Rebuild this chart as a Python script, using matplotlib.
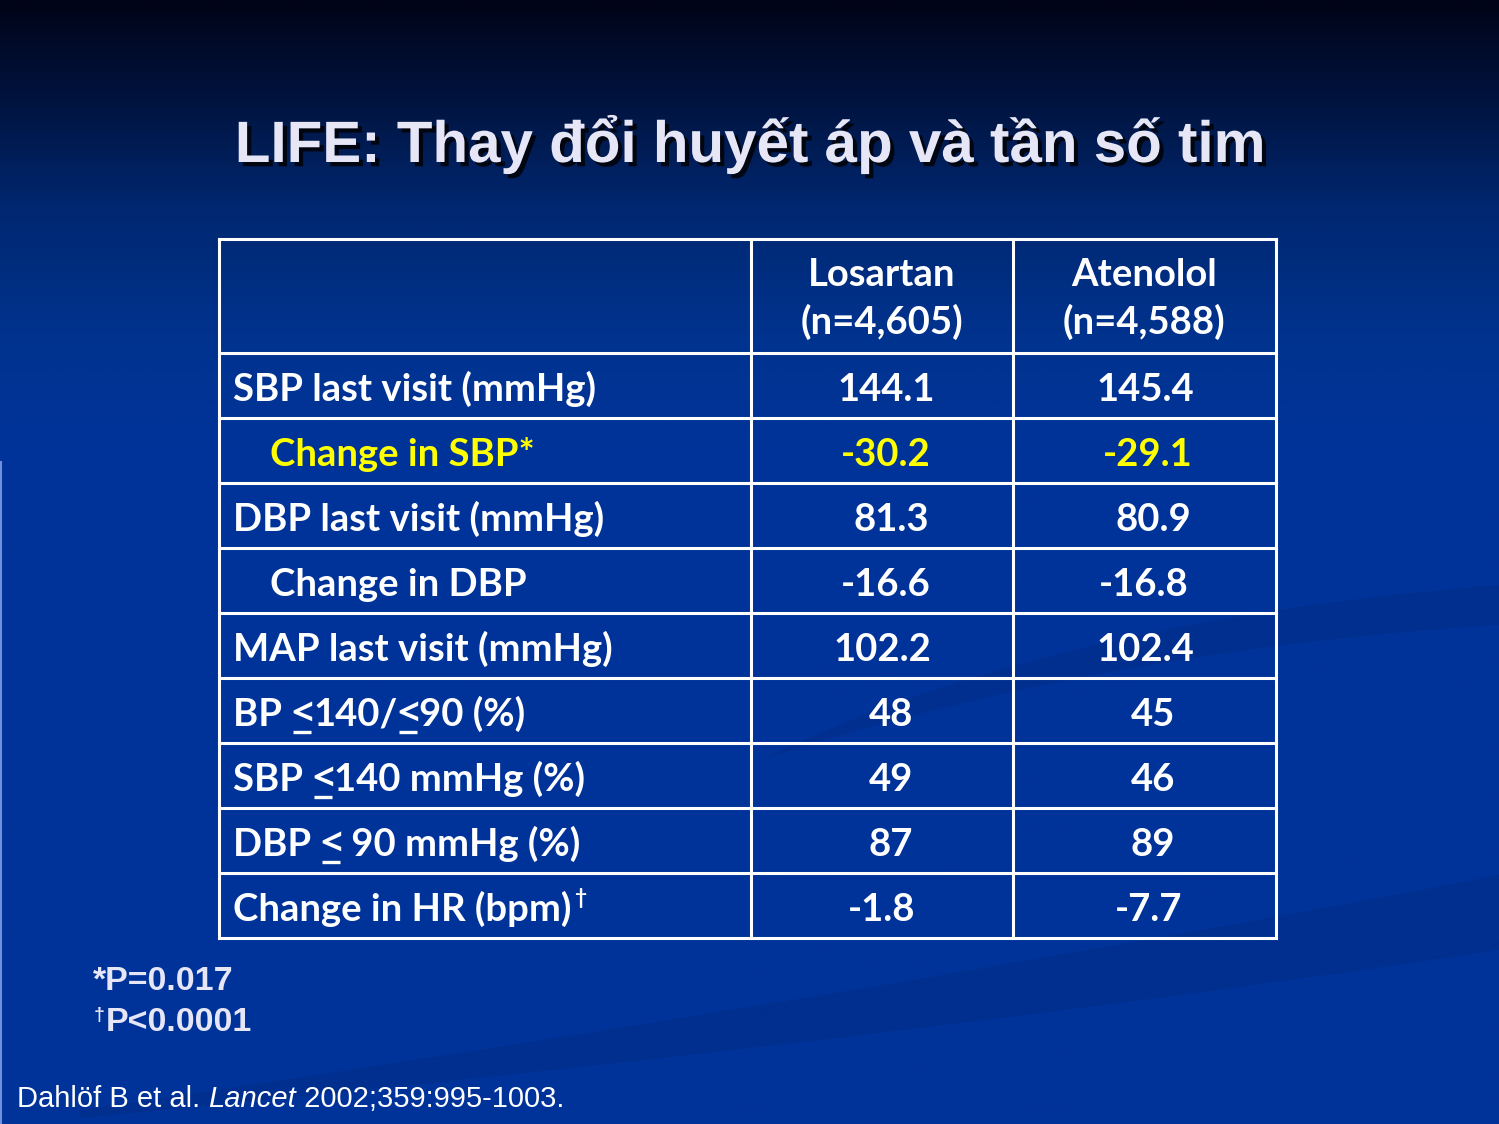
import numpy as np
import matplotlib.pyplot as plt
import matplotlib.patheffects as pe
from matplotlib.colors import LinearSegmentedColormap

# table data
row_labels = ["SBP last visit (mmHg)", "Change in SBP*", "DBP last visit (mmHg)",
              "Change in DBP", "MAP last visit (mmHg)", "BP \u2264140/\u226490 (%)",
              "SBP \u2264140 mmHg (%)", "DBP \u2264 90 mmHg (%)", "Change in HR (bpm)"]
row_indent = [False, True, False, True, False, False, False, False, False]
row_dagger = [False, False, False, False, False, False, False, False, True]
row_yellow = [False, True, False, False, False, False, False, False, False]
losartan = [144.1, -30.2, 81.3, -16.6, 102.2, 48, 49, 87, -1.8]
atenolol = [145.4, -29.1, 80.9, -16.8, 102.4, 45, 46, 89, -7.7]
headers = [("Losartan", "(n=4,605)"), ("Atenolol", "(n=4,588)")]

title = "LIFE: Thay đổi huyết áp và tần số tim"
footnotes = ["*P=0.017", "P<0.0001"]

# layout (pixels)
W, H = 1499, 1124
xs = [219, 751, 1013, 1276]
row_h = 65
cx_l = [886, 886, 891, 886, 882, 891, 891, 891, 882]
cx_r = [1145, 1148, 1153, 1144, 1145, 1153, 1153, 1153, 1149]

fig = plt.figure(figsize=(W / 100, H / 100), dpi=100)
ax = fig.add_axes([0, 0, 1, 1])
ax.set_xlim(0, W)
ax.set_ylim(H, 0)
ax.axis('off')

# background gradient
cmap = LinearSegmentedColormap.from_list(
    'bg', [(0.0, '#000418'), (0.09, '#001440'), (0.18, '#00276f'),
           (0.30, '#00338f'), (0.40, '#003399'), (1.0, '#003399')])
grad = np.linspace(0, 1, 400).reshape(-1, 1)
ax.imshow(grad, cmap=cmap, extent=[0, W, H, 0], aspect='auto', zorder=0)

# faint swooshes
t = np.linspace(0, 1, 100)
def bez(p0, p1, p2):
    return ((1 - t) ** 2)[:, None] * p0 + (2 * (1 - t) * t)[:, None] * p1 + (t ** 2)[:, None] * p2
up = bez(np.array([1499, 875]), np.array([900, 990]), np.array([80, 1110]))
lo = bez(np.array([1499, 950]), np.array([900, 1040]), np.array([80, 1118]))
poly = np.vstack([up, lo[::-1]])
ax.fill(poly[:, 0], poly[:, 1], color='#002a80', alpha=0.4, lw=0, zorder=1)
up = bez(np.array([1499, 585]), np.array([1050, 620]), np.array([760, 760]))
lo = bez(np.array([1499, 625]), np.array([1100, 650]), np.array([760, 760]))
poly = np.vstack([up, lo[::-1]])
ax.fill(poly[:, 0], poly[:, 1], color='#002a80', alpha=0.35, lw=0, zorder=1)
ax.plot([0.8, 0.8], [462, H], color='#6f8fe0', lw=1.5, zorder=1)

# title
ax.text(751, 162, title, ha='center', va='baseline', fontsize=42, fontweight='bold',
        family='Liberation Sans', color='#E6E6F6', zorder=5,
        path_effects=[pe.withSimplePatchShadow(offset=(3, -3), shadow_rgbFace='black', alpha=0.8)])

# table grid
ys = [239, 353] + [353 + row_h * (i + 1) for i in range(len(row_labels))]
lw = 2.2
for x in xs:
    ax.plot([x, x], [ys[0], ys[-1]], color='white', lw=lw, zorder=3)
for y in ys:
    ax.plot([xs[0], xs[-1]], [y, y], color='white', lw=lw, zorder=3)

tfont = dict(family='Lato', fontweight='bold', fontsize=27.5)
lt_font = dict(family='Open Sans', fontweight='bold', fontsize=27.5)
for c, (h1, h2) in zip([882, 1144], headers):
    ax.text(c, 286, h1, ha='center', va='baseline', color='white', zorder=4, **tfont)
    ax.text(c, 334, h2, ha='center', va='baseline', color='white', zorder=4, **tfont)

fig.canvas.draw()
r = fig.canvas.get_renderer()
inv = ax.transData.inverted()

def right_edge(txt):
    bb = txt.get_window_extent(r)
    return inv.transform((bb.x1, 0))[0]

def left_edge(txt):
    bb = txt.get_window_extent(r)
    return inv.transform((bb.x0, 0))[0]

for i, lab in enumerate(row_labels):
    yb = ys[i + 1] + 48
    col = '#FFFF00' if row_yellow[i] else 'white'
    x = 270 if row_indent[i] else 233
    # draw label piecewise so "<" can be underlined
    pieces = lab.split('\u2264')
    for k, piece in enumerate(pieces):
        if k > 0:
            lt = ax.text(x, yb - 1, '<', ha='left', va='baseline', color=col, zorder=4, **lt_font)
            x0, x1 = left_edge(lt), right_edge(lt)
            ax.plot([x0 + 2, x1 - 2], [yb + 6, yb + 6], color=col, lw=2.4,
                    solid_capstyle='butt', zorder=4)
            x = x1
        if piece:
            pt = ax.text(x, yb, piece, ha='left', va='baseline', color=col, zorder=4, **tfont)
            x = right_edge(pt)
    if row_dagger[i]:
        ax.text(x + 3, yb - 17, "\u2020", ha='left', va='baseline', color=col,
                family='Lato', fontweight='bold', fontsize=15, zorder=4)
    ax.text(cx_l[i], yb, f"{losartan[i]:g}", ha='center', va='baseline', color=col, zorder=4, **tfont)
    ax.text(cx_r[i], yb, f"{atenolol[i]:g}", ha='center', va='baseline', color=col, zorder=4, **tfont)

# footnotes
ffont = dict(family='Liberation Sans', fontweight='bold', fontsize=24.5, color='#E6E6F6')
ax.text(93, 990, footnotes[0], ha='left', va='baseline', zorder=4, **ffont)
ax.text(94, 1020, "\u2020", ha='left', va='baseline', zorder=4, family='Liberation Sans',
        fontweight='bold', fontsize=14, color='#E6E6F6')
ax.text(106, 1031, footnotes[1], ha='left', va='baseline', zorder=4, **ffont)

# citation
cfont = dict(family='Liberation Sans', fontsize=21, color='white')
parts = [("Dahlöf B et al. ", 'normal'), ("Lancet", 'italic'), (" 2002;359:995-1003.", 'normal')]
x = 17
for txt, st in parts:
    tt = ax.text(x, 1107, txt, ha='left', va='baseline', style=st, zorder=4, **cfont)
    x = right_edge(tt)

fig.savefig('out.png', dpi=100)
